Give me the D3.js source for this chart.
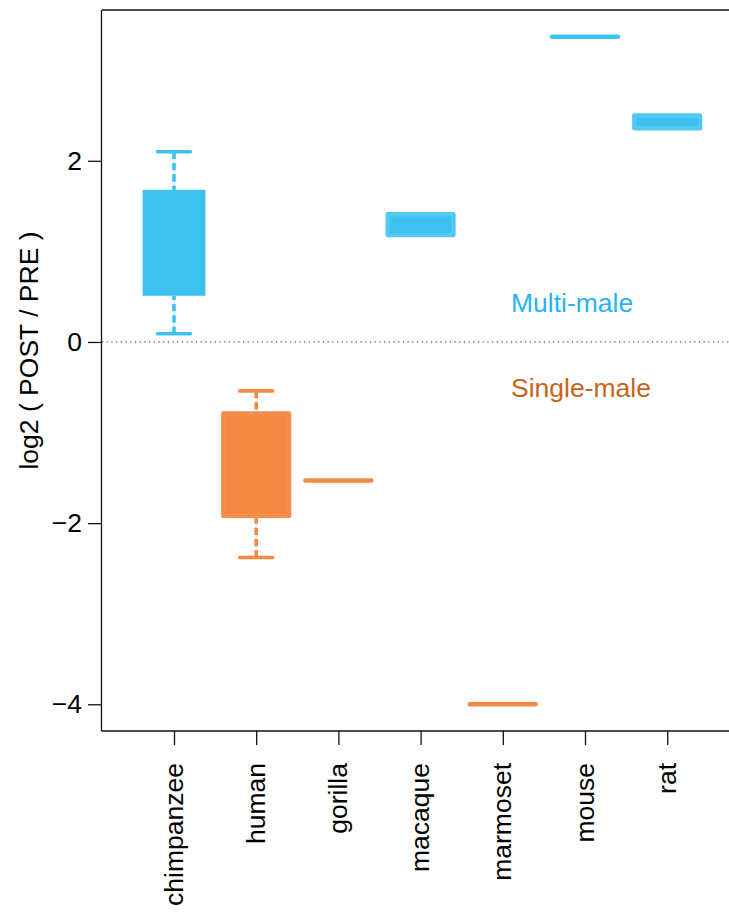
<!DOCTYPE html>
<html>
<head>
<meta charset="utf-8">
<script src="https://cdn.jsdelivr.net/npm/d3@7/dist/d3.min.js"></script>
<style>
  html, body { margin: 0; padding: 0; background: #fff; }
  svg { display: block; font-family: "Liberation Sans", Arial, Helvetica, sans-serif; }
</style>
</head>
<body>
<svg id="chart" width="729" height="913"></svg>
<script>
// Species and their mating-system group
const categories = ["chimpanzee", "human", "gorilla", "macaque", "marmoset", "mouse", "rat"];
const groups = ["multi", "single", "single", "multi", "single", "multi", "multi"];

// Box-plot summaries of log2(POST / PRE)
const whiskerLow  = [0.09, -2.38, -1.53, 1.18, -4.00, 3.37, 2.36];
const q1          = [0.51, -1.92, -1.53, 1.18, -4.00, 3.37, 2.36];
const q3          = [1.68, -0.79, -1.53, 1.41, -4.00, 3.37, 2.50];
const whiskerHigh = [2.10, -0.54, -1.53, 1.41, -4.00, 3.37, 2.50];

const yTicks = [-4, -2, 0, 2];
const groupNames = ["Multi-male", "Single-male"];
const yTitle = "log2 ( POST / PRE )";

// ---- layout & style ----
const svg = d3.select("#chart");
const W = 729;
const plot = { left: 102, top: 10, right: W, bottom: 731 };
const fontSize = 26.5;
const fill = { multi: "#3DC1EF", single: "#F48944" };
const edge = { multi: "#52C9F3", single: "#F58E4C" };
const textColor = { multi: "#27B3F4", single: "#C8641A" };
const noOutline = new Set(["chimpanzee"]);

const rows = categories.map((c, i) => ({
  name: c, group: groups[i],
  lo: whiskerLow[i], q1: q1[i], q3: q3[i], hi: whiskerHigh[i]
}));

// y range padded by 4% on each side
const yMin = d3.min(whiskerLow), yMax = d3.max(whiskerHigh);
const pad = (yMax - yMin) * 0.04;
const y = d3.scaleLinear().domain([yMin - pad, yMax + pad]).range([plot.bottom, plot.top]);

const x = d3.scalePoint().domain(categories).range([174, 667.2]);
const step = x.step();
const boxW = step * 0.8;
const capW = boxW * 0.5;

// frame: top line, zero reference
svg.append("line")
  .attr("x1", plot.left).attr("x2", plot.right)
  .attr("y1", plot.top).attr("y2", plot.top)
  .attr("stroke", "#111").attr("stroke-width", 1.3);

svg.append("line")
  .attr("x1", plot.left).attr("x2", plot.right)
  .attr("y1", y(0)).attr("y2", y(0))
  .attr("stroke", "#555").attr("stroke-width", 1.2)
  .attr("stroke-dasharray", "1.2,3.5");

// boxes
const g = svg.append("g");
rows.forEach(d => {
  const cx = x(d.name);
  const col = fill[d.group];

  // whiskers: faint guide + dashed stroke
  [[d.q3, d.hi], [d.q1, d.lo]].forEach(([a, b]) => {
    if (a === b) return;
    g.append("line")
      .attr("x1", cx).attr("x2", cx).attr("y1", y(a)).attr("y2", y(b))
      .attr("stroke", col).attr("stroke-width", 1).attr("opacity", 0.35);
    g.append("line")
      .attr("x1", cx).attr("x2", cx).attr("y1", y(b)).attr("y2", y(a))
      .attr("stroke", col).attr("stroke-width", 3.6)
      .attr("stroke-dasharray", "7.3,4");
  });

  // staples
  if (!(d.lo === d.q1 && d.hi === d.q3)) {
    [d.lo, d.hi].forEach(v => {
      g.append("line")
        .attr("x1", cx - capW / 2).attr("x2", cx + capW / 2)
        .attr("y1", y(v)).attr("y2", y(v))
        .attr("stroke", col).attr("stroke-width", 3.6)
        .attr("stroke-linecap", "round");
    });
  }

  // box body (a flat box collapses to a thick rounded bar)
  if (d.q1 === d.q3) {
    g.append("line")
      .attr("x1", cx - boxW / 2).attr("x2", cx + boxW / 2)
      .attr("y1", y(d.q1)).attr("y2", y(d.q1))
      .attr("stroke", col).attr("stroke-width", 4.6)
      .attr("stroke-linecap", "round");
  } else {
    const outlined = !noOutline.has(d.name);
    const bw = outlined ? boxW : boxW - 3;
    g.append("rect")
      .attr("x", cx - bw / 2).attr("width", bw)
      .attr("y", y(d.q3)).attr("height", y(d.q1) - y(d.q3))
      .attr("fill", col)
      .attr("stroke", outlined ? edge[d.group] : "none")
      .attr("stroke-width", 4.4)
      .attr("stroke-linejoin", "round");
  }
});

// y axis
const yAxis = d3.axisLeft(y).tickValues(yTicks).tickSize(14).tickPadding(6)
  .tickFormat(d => d < 0 ? "\u2212" + Math.abs(d) : String(d));
const ya = svg.append("g").attr("transform", `translate(${plot.left},0)`).call(yAxis);
ya.select(".domain").attr("d", `M-0.5,${plot.top}V${plot.bottom}`)
  .attr("stroke", "#111").attr("stroke-width", 1.3);
ya.selectAll(".tick line").attr("stroke", "#111").attr("stroke-width", 1.3);
ya.selectAll(".tick text").attr("font-size", fontSize).attr("fill", "#000")
  .attr("font-family", "Liberation Sans, Arial, sans-serif");

// x axis
const xAxis = d3.axisBottom(x).tickSize(14).tickPadding(0);
const xa = svg.append("g").attr("transform", `translate(0,${plot.bottom})`).call(xAxis);
xa.select(".domain").attr("d", `M${plot.left - 0.5},0H${plot.right}`)
  .attr("stroke", "#111").attr("stroke-width", 1.3);
xa.selectAll(".tick line").attr("stroke", "#111").attr("stroke-width", 1.3);
xa.selectAll(".tick text")
  .attr("font-size", fontSize).attr("fill", "#000")
  .attr("font-family", "Liberation Sans, Arial, sans-serif")
  .attr("text-anchor", "end")
  .attr("dy", null)
  .attr("transform", "translate(8,32) rotate(-90)")
  .attr("x", 0).attr("y", 0);

// y title
svg.append("text")
  .attr("transform", `translate(38,${(plot.top + plot.bottom) / 2 - 20}) rotate(-90)`)
  .attr("text-anchor", "middle")
  .attr("font-size", fontSize)
  .attr("fill", "#000")
  .text(yTitle);

// group annotations
svg.append("text").attr("x", 511).attr("y", 312)
  .attr("font-size", fontSize).attr("fill", textColor.multi).text(groupNames[0]);
svg.append("text").attr("x", 511).attr("y", 397)
  .attr("font-size", fontSize).attr("fill", textColor.single).text(groupNames[1]);
</script>
</body>
</html>
